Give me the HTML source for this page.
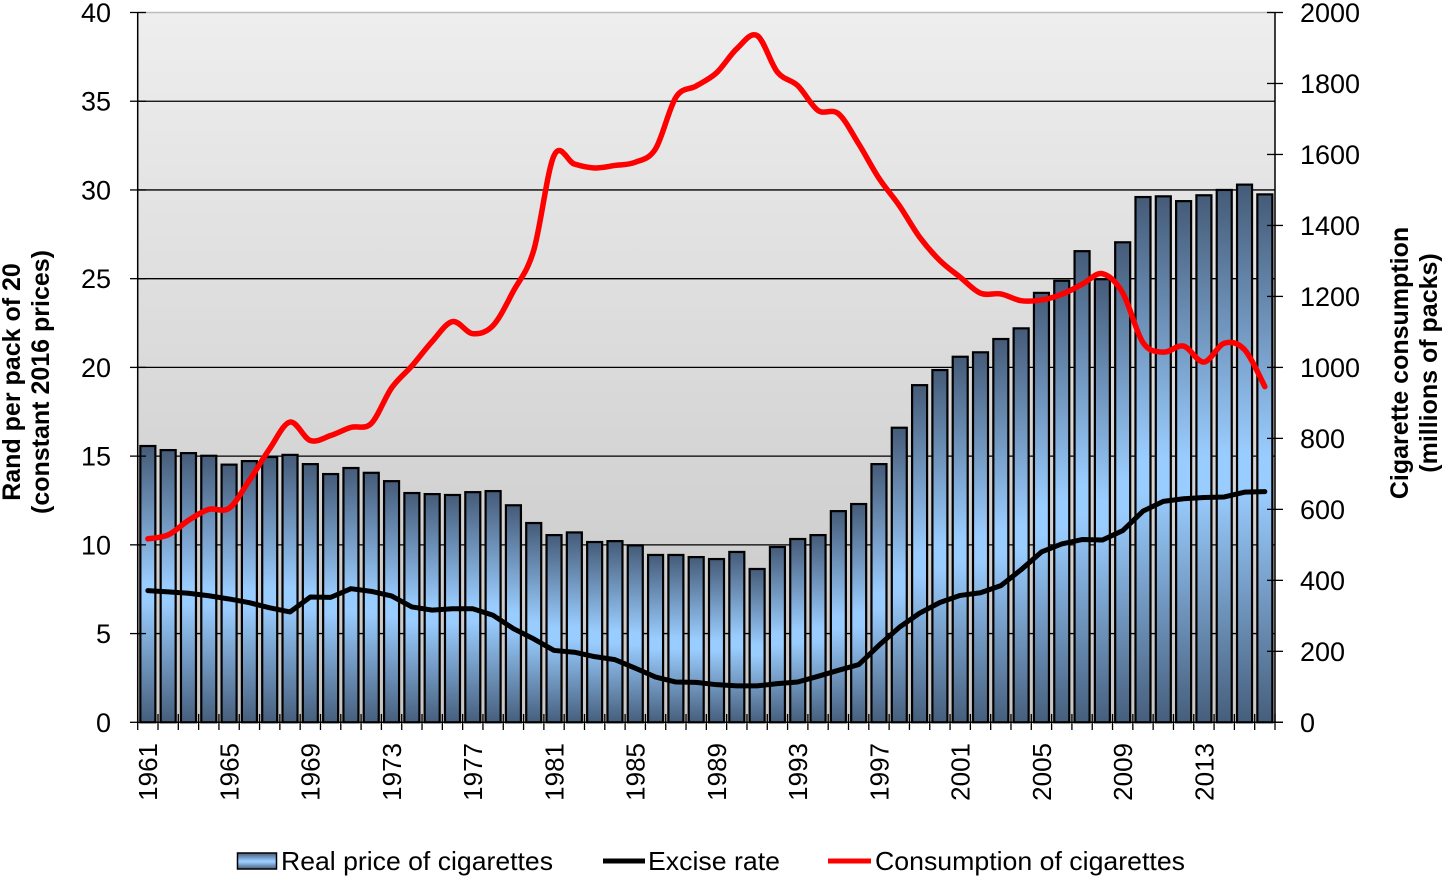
<!DOCTYPE html>
<html><head><meta charset="utf-8">
<style>
html,body{margin:0;padding:0;background:#fff;}
svg{display:block;font-family:"Liberation Sans",Arial,sans-serif;}
</style></head>
<body>
<svg id="c" width="1443" height="890" viewBox="0 0 1443 890" xmlns="http://www.w3.org/2000/svg">
<defs>
<linearGradient id="bg" x1="0" y1="0" x2="0" y2="1">
<stop offset="0" stop-color="#eeeeee"/><stop offset="1" stop-color="#c6c6c6"/>
</linearGradient>
<linearGradient id="bar" x1="0" y1="0" x2="0" y2="1">
<stop offset="0" stop-color="#455b78"/><stop offset="0.5" stop-color="#9acdff"/><stop offset="0.56" stop-color="#9acdff"/><stop offset="1" stop-color="#465e7c"/>
</linearGradient>
</defs>
<rect x="137.7" y="12.5" width="1137.3" height="709.8" fill="url(#bg)"/>
<line x1="137.7" x2="1275" y1="12.5" y2="12.5" stroke="#bdbdbd" stroke-width="1.5"/>
<g id="grid"></g>
<g id="bars"></g>
<g id="axes"></g>
<g id="lines"></g>

<g font-size="27" fill="#000" text-anchor="end">
<text x="111" y="731.8">0</text>
<text x="111" y="643.1">5</text>
<text x="111" y="554.3">10</text>
<text x="111" y="465.6">15</text>
<text x="111" y="376.9">20</text>
<text x="111" y="288.2">25</text>
<text x="111" y="199.4">30</text>
<text x="111" y="110.7">35</text>
<text x="111" y="22">40</text>
</g>
<g font-size="27" fill="#000" text-anchor="start">
<text x="1300" y="731.8">0</text>
<text x="1300" y="660.8">200</text>
<text x="1300" y="589.8">400</text>
<text x="1300" y="518.9">600</text>
<text x="1300" y="447.9">800</text>
<text x="1300" y="376.9">1000</text>
<text x="1300" y="305.9">1200</text>
<text x="1300" y="234.9">1400</text>
<text x="1300" y="164">1600</text>
<text x="1300" y="93">1800</text>
<text x="1300" y="22">2000</text>
</g>
<g font-size="26" fill="#000" text-anchor="end">
<text transform="translate(157.2,743) rotate(-90)">1961</text>
<text transform="translate(238.4,743) rotate(-90)">1965</text>
<text transform="translate(319.6,743) rotate(-90)">1969</text>
<text transform="translate(400.9,743) rotate(-90)">1973</text>
<text transform="translate(482.1,743) rotate(-90)">1977</text>
<text transform="translate(563.4,743) rotate(-90)">1981</text>
<text transform="translate(644.6,743) rotate(-90)">1985</text>
<text transform="translate(725.9,743) rotate(-90)">1989</text>
<text transform="translate(807.1,743) rotate(-90)">1993</text>
<text transform="translate(888.3,743) rotate(-90)">1997</text>
<text transform="translate(969.6,743) rotate(-90)">2001</text>
<text transform="translate(1050.8,743) rotate(-90)">2005</text>
<text transform="translate(1132.1,743) rotate(-90)">2009</text>
<text transform="translate(1213.3,743) rotate(-90)">2013</text>
</g>
<g font-size="25" font-weight="bold" fill="#000" text-anchor="middle">
<text transform="translate(20,382) rotate(-90)">Rand per pack of 20</text>
<text transform="translate(49,382) rotate(-90)">(constant 2016 prices)</text>
<text transform="translate(1408,363) rotate(-90)">Cigarette consumption</text>
<text transform="translate(1437,363) rotate(-90)">(millions of packs)</text>
</g>
<g>
<rect x="237.5" y="853" width="39" height="16" fill="url(#bar)" stroke="#000" stroke-width="1.5"/>
<text x="281" y="870" font-size="26" textLength="272" lengthAdjust="spacingAndGlyphs">Real price of cigarettes</text>
<line x1="603" x2="645" y1="861" y2="861" stroke="#000" stroke-width="5"/>
<text x="648" y="870" font-size="26" textLength="132" lengthAdjust="spacingAndGlyphs">Excise rate</text>
<line x1="828" x2="871" y1="861" y2="861" stroke="#ff0000" stroke-width="5"/>
<text x="875" y="870" font-size="26" textLength="310" lengthAdjust="spacingAndGlyphs">Consumption of cigarettes</text>
</g>
</svg>
<script>
(function(){
const NS="http://www.w3.org/2000/svg";
const L=137.7,R=1275,T=12.5,B=722.3,N=56,w=(R-L)/N;
const sy=(B-T)/40, sr=(B-T)/2000;
const price=[15.57,15.34,15.17,15.02,14.52,14.72,14.95,15.07,14.55,13.99,14.33,14.06,13.59,12.92,12.86,12.81,12.97,13.03,12.23,11.23,10.55,10.7,10.16,10.21,9.97,9.43,9.43,9.31,9.2,9.6,8.64,9.88,10.33,10.55,11.9,12.3,14.55,16.6,19.0,19.85,20.6,20.85,21.6,22.2,24.2,24.88,26.55,24.97,27.05,29.6,29.64,29.37,29.7,30.0,30.3,29.75];
const exc=[7.42,7.35,7.27,7.13,6.95,6.74,6.45,6.22,7.06,7.04,7.53,7.38,7.12,6.5,6.32,6.4,6.4,6.03,5.28,4.7,4.05,3.95,3.7,3.53,3.05,2.55,2.27,2.25,2.12,2.05,2.05,2.18,2.27,2.59,2.93,3.25,4.34,5.35,6.15,6.75,7.15,7.3,7.7,8.6,9.6,10.05,10.3,10.27,10.8,11.9,12.45,12.6,12.67,12.7,12.97,13.0];
const cons=[517,528,569,600,603,682,771,846,794,808,831,842,942,1004,1073,1129,1095,1118,1215,1330,1597,1573,1562,1569,1578,1616,1761,1793,1830,1898,1935,1832,1794,1724,1715,1630,1533,1456,1367,1301,1254,1209,1207,1188,1190,1206,1234,1264,1210,1070,1043,1060,1015,1068,1050,946];
function el(tag,attrs,parent){const e=document.createElementNS(NS,tag);for(const k in attrs)e.setAttribute(k,attrs[k]);parent.appendChild(e);return e;}
const grid=document.getElementById('grid');
for(let v=5;v<40;v+=5){const y=B-v*sy;el('line',{x1:L,x2:R,y1:y,y2:y,stroke:'#000','stroke-width':1.3},grid);}
const bars=document.getElementById('bars');
price.forEach((p,i)=>{const x=L+i*w+2.65,y=B-p*sy;el('rect',{x:x,y:y,width:w-5.3,height:B-y,fill:'url(#bar)',stroke:'#000','stroke-width':2.2},bars);});
const ax=document.getElementById('axes');
el('line',{x1:L,x2:L,y1:T,y2:B,stroke:'#000','stroke-width':1.5},ax);
el('line',{x1:R,x2:R,y1:T,y2:B,stroke:'#000','stroke-width':1.5},ax);
el('line',{x1:L,x2:R+8,y1:B,y2:B,stroke:'#000','stroke-width':1.5},ax);
for(let v=0;v<=40;v+=5){const y=B-v*sy;el('line',{x1:130,x2:146,y1:y,y2:y,stroke:'#000','stroke-width':1.3},ax);}
for(let v=0;v<=2000;v+=200){const y=B-v*sr;el('line',{x1:1267,x2:1283,y1:y,y2:y,stroke:'#000','stroke-width':1.3},ax);}
for(let i=0;i<=N;i++){const x=L+i*w;el('line',{x1:x,x2:x,y1:714,y2:730,stroke:'#000','stroke-width':1.3},ax);}
const lines=document.getElementById('lines');
const ep=exc.map((v,i)=>[L+(i+0.5)*w,B-v*sy]);
el('polyline',{points:ep.map(p=>p[0].toFixed(2)+','+p[1].toFixed(2)).join(' '),fill:'none',stroke:'#000','stroke-width':5,'stroke-linejoin':'round','stroke-linecap':'round'},lines);
const cp=cons.map((v,i)=>[L+(i+0.5)*w,B-v*sr]);
function smooth(pts){let d='M'+pts[0][0]+','+pts[0][1];for(let i=0;i<pts.length-1;i++){const p0=pts[i-1]||pts[i],p1=pts[i],p2=pts[i+1],p3=pts[i+2]||p2;const c1x=p1[0]+(p2[0]-p0[0])/6,c1y=p1[1]+(p2[1]-p0[1])/6,c2x=p2[0]-(p3[0]-p1[0])/6,c2y=p2[1]-(p3[1]-p1[1])/6;d+='C'+c1x+','+c1y+' '+c2x+','+c2y+' '+p2[0]+','+p2[1];}return d;}
el('path',{d:smooth(cp),fill:'none',stroke:'#ff0000','stroke-width':5.5,'stroke-linejoin':'round','stroke-linecap':'round'},lines);
})();
</script>
</body></html>
